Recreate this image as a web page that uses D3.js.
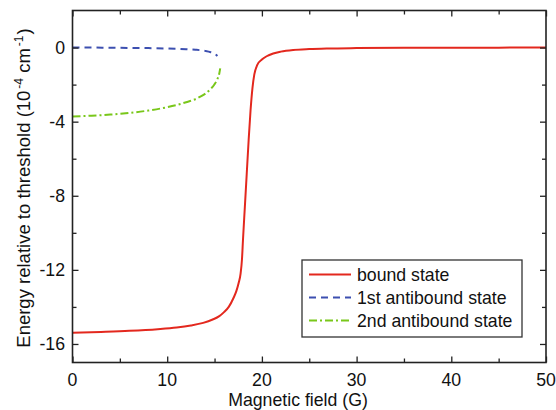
<!DOCTYPE html>
<html>
<head>
<meta charset="utf-8">
<script src="https://cdn.jsdelivr.net/npm/d3@7"></script>
<style>
  html, body { margin: 0; padding: 0; background: #fff; }
  svg { display: block; font-family: "Liberation Sans", Arial, sans-serif; }
</style>
</head>
<body>
<svg id="chart" width="556" height="410"></svg>
<script>
// Bound state energy vs magnetic field
const boundField  = [0, 3, 6, 9, 11, 12.5, 13.8, 14.8, 15.5, 16.0, 16.5, 17.0, 17.3, 17.55, 17.75, 17.9, 18.0, 18.2, 18.4, 18.6, 18.8, 19.0, 19.2, 19.5, 20.0, 20.5, 21.2, 22, 23.3, 25, 27, 30, 35, 40, 45, 50];
const boundEnergy = [-15.40, -15.35, -15.29, -15.20, -15.11, -15.00, -14.86, -14.68, -14.50, -14.28, -14.00, -13.52, -13.15, -12.70, -12.20, -11.40, -10.40, -8.60, -6.80, -5.00, -3.40, -2.20, -1.45, -0.95, -0.65, -0.47, -0.32, -0.22, -0.13, -0.08, -0.05, -0.03, -0.015, -0.008, -0.004, 0];

// First antibound state
const anti1Field  = [0, 2, 4, 6, 8, 10, 12, 13, 14, 14.6, 15.0, 15.3];
const anti1Energy = [0, 0, -0.01, -0.02, -0.03, -0.05, -0.09, -0.12, -0.18, -0.25, -0.33, -0.45];

// Second antibound state
const anti2Field  = [0, 2, 4, 6, 8, 10, 11, 12, 13, 13.5, 14, 14.5, 15, 15.3, 15.5, 15.6];
const anti2Energy = [-3.72, -3.68, -3.62, -3.53, -3.40, -3.22, -3.10, -2.95, -2.78, -2.65, -2.50, -2.28, -1.98, -1.70, -1.40, -1.12];

const xMajorTicks = [0, 10, 20, 30, 40, 50];
const xMinorTicks = [5, 15, 25, 35, 45];
const yMajorTicks = [0, -4, -8, -12, -16];
const yMinorTicks = [-2, -6, -10, -14];

const legendLabels = ["bound state", "1st antibound state", "2nd antibound state"];
const seriesColors = ["#e3281e", "#3c4fb0", "#79c71a"];
const seriesDashes = [null, "7,5", "8,3,2,3"];

const svg = d3.select("#chart");
const plot = { left: 72.5, right: 546, top: 10.5, bottom: 362.5 };
const fontSize = 17.7;

const x = d3.scaleLinear().domain([0, 50]).range([plot.left, plot.right]);
const y = d3.scaleLinear().domain([-17, 2]).range([plot.bottom, plot.top]);

const series = [
  { field: boundField, energy: boundEnergy },
  { field: anti1Field, energy: anti1Energy },
  { field: anti2Field, energy: anti2Energy }
];

const line = d3.line()
  .x(d => x(d[0]))
  .y(d => y(d[1]))
  .curve(d3.curveMonotoneX);

svg.append("clipPath").attr("id", "plotClip")
  .append("rect")
  .attr("x", plot.left).attr("y", plot.top)
  .attr("width", plot.right - plot.left).attr("height", plot.bottom - plot.top);

const curves = svg.append("g").attr("clip-path", "url(#plotClip)");
series.forEach((s, i) => {
  const pts = s.field.map((b, j) => [b, s.energy[j]]);
  curves.append("path")
    .datum(pts)
    .attr("d", line)
    .attr("fill", "none")
    .attr("stroke", seriesColors[i])
    .attr("stroke-width", 2)
    .attr("stroke-dasharray", seriesDashes[i]);
});

// Axes: ticks point inward, mirrored on top and right
const frameColor = "#222";
const tickStyle = g => g.call(s => s.select(".domain").remove())
  .selectAll("line").attr("stroke", frameColor).attr("stroke-width", 1.3);

svg.append("g").attr("transform", `translate(0,${plot.bottom})`)
  .call(d3.axisTop(x).tickValues(xMajorTicks).tickSize(6).tickFormat(""))
  .call(tickStyle);
svg.append("g").attr("transform", `translate(0,${plot.bottom})`)
  .call(d3.axisTop(x).tickValues(xMinorTicks).tickSize(4).tickFormat(""))
  .call(tickStyle);
svg.append("g").attr("transform", `translate(0,${plot.top})`)
  .call(d3.axisBottom(x).tickValues(xMajorTicks).tickSize(6).tickFormat(""))
  .call(tickStyle);
svg.append("g").attr("transform", `translate(0,${plot.top})`)
  .call(d3.axisBottom(x).tickValues(xMinorTicks).tickSize(4).tickFormat(""))
  .call(tickStyle);
svg.append("g").attr("transform", `translate(${plot.left},0)`)
  .call(d3.axisRight(y).tickValues(yMajorTicks).tickSize(6).tickFormat(""))
  .call(tickStyle);
svg.append("g").attr("transform", `translate(${plot.left},0)`)
  .call(d3.axisRight(y).tickValues(yMinorTicks).tickSize(4).tickFormat(""))
  .call(tickStyle);
svg.append("g").attr("transform", `translate(${plot.right},0)`)
  .call(d3.axisLeft(y).tickValues(yMajorTicks).tickSize(6).tickFormat(""))
  .call(tickStyle);
svg.append("g").attr("transform", `translate(${plot.right},0)`)
  .call(d3.axisLeft(y).tickValues(yMinorTicks).tickSize(4).tickFormat(""))
  .call(tickStyle);

// Frame
svg.append("rect")
  .attr("x", plot.left).attr("y", plot.top)
  .attr("width", plot.right - plot.left).attr("height", plot.bottom - plot.top)
  .attr("fill", "none").attr("stroke", frameColor).attr("stroke-width", 1.6);

// Tick labels
svg.append("g").selectAll("text").data(xMajorTicks).join("text")
  .attr("x", d => x(d)).attr("y", 386)
  .attr("text-anchor", "middle").attr("font-size", fontSize).attr("fill", "#111")
  .text(d => d);
svg.append("g").selectAll("text").data(yMajorTicks).join("text")
  .attr("x", 65).attr("y", d => y(d)).attr("dy", "0.35em")
  .attr("text-anchor", "end").attr("font-size", fontSize).attr("fill", "#111")
  .text(d => d === 0 ? "0" : "-" + Math.abs(d));

// Axis titles
svg.append("text")
  .attr("x", 298).attr("y", 406)
  .attr("text-anchor", "middle").attr("font-size", fontSize).attr("fill", "#111")
  .text("Magnetic field (G)");

const yTitle = svg.append("text")
  .attr("transform", "translate(30,188) rotate(-90)")
  .attr("text-anchor", "middle").attr("font-size", 18.5).attr("fill", "#111");
yTitle.append("tspan").text("Energy relative to threshold (10");
yTitle.append("tspan").attr("font-size", 12).attr("dx", 2).attr("dy", -7.5).text("-4");
yTitle.append("tspan").attr("dy", 7.5).text(" cm");
yTitle.append("tspan").attr("font-size", 12).attr("dx", 2).attr("dy", -7.5).text("-1");
yTitle.append("tspan").attr("dx", 1).attr("dy", 7.5).text(")");

// Legend
const legend = svg.append("g");
legend.append("rect")
  .attr("x", 302).attr("y", 260).attr("width", 220).attr("height", 77)
  .attr("fill", "#fff").attr("stroke", "#333").attr("stroke-width", 1.3);
legendLabels.forEach((label, i) => {
  const ly = 274.5 + i * 23;
  legend.append("line")
    .attr("x1", 309).attr("x2", 351).attr("y1", ly).attr("y2", ly)
    .attr("stroke", seriesColors[i]).attr("stroke-width", 2)
    .attr("stroke-dasharray", seriesDashes[i]);
  legend.append("text")
    .attr("x", 357).attr("y", ly + 6)
    .attr("font-size", fontSize).attr("fill", "#111")
    .text(label);
});
</script>
</body>
</html>
